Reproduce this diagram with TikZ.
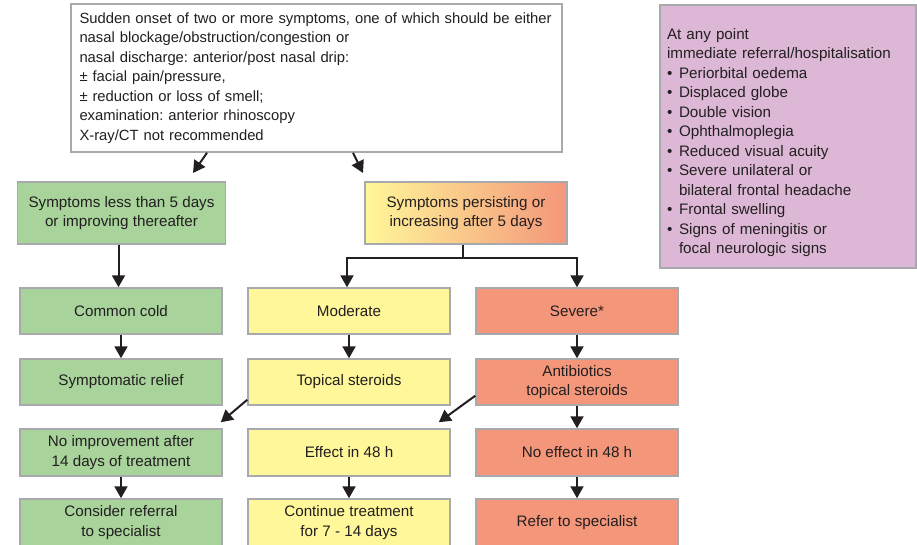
\documentclass[tikz,border=0pt]{standalone}
\usepackage{fontspec}
\setmainfont{Liberation Sans}
\usetikzlibrary{arrows.meta}
\frenchspacing

\definecolor{boxgreen}{HTML}{A8D39B}
\definecolor{boxyellow}{HTML}{FFF799}
\definecolor{boxred}{HTML}{F4967A}
\definecolor{boxpink}{HTML}{DDB8D6}
\definecolor{boxedge}{HTML}{A7A9AC}
\definecolor{ink}{HTML}{231F20}

\newcommand{\bul}{\makebox[12pt][l]{•}}
\newcommand{\nobul}{\hspace*{12pt}}

\tikzset{
  stage/.style={draw=boxedge, line width=1.5pt, minimum width=202pt, minimum height=46pt,
    inner sep=2pt, align=center, text=ink},
  mild/.style={stage, fill=boxgreen},
  moder/.style={stage, fill=boxyellow},
  sev/.style={stage, fill=boxred},
  flow/.style={-{Triangle[length=12pt,width=13pt]}, line width=2pt, ink}
}

\begin{document}
\begin{tikzpicture}[x=1pt, y=-1pt, font=\fontsize{15.2}{19.5}\selectfont]
    \def\colA{121}
    \def\colB{349}
    \def\colC{577}

    \useasboundingbox (0,0) rectangle (917,544);

    % presentation and red flags
    \node[stage, fill=white, minimum width=491pt, minimum height=148pt,
      text width=478pt, inner xsep=6.5pt, align=left,
      font=\fontsize{14.8}{19.5}\selectfont] (onset) at (316.5,78)
      {\mbox{\hspace*{2pt}Sudden onset of two or more symptoms, one of which should be either}\\
       \hspace*{2pt}nasal blockage/obstruction/congestion or\\
       \hspace*{2pt}nasal discharge: anterior/post nasal drip:\\
       \hspace*{2pt}± facial pain/pressure,\\
       \hspace*{2pt}± reduction or loss of smell;\\
       \hspace*{2pt}examination: anterior rhinoscopy\\
       \hspace*{2pt}X-ray/CT not recommended};

    \node[stage, fill=boxpink, minimum width=256pt, minimum height=263pt,
      text width=242pt, inner xsep=7pt, align=left] (anypoint) at (788,136.5)
      {\rule{0pt}{23pt}At any point\\
       immediate referral/hospitalisation\\
       \bul Periorbital oedema\\
       \bul Displaced globe\\
       \bul Double vision\\
       \bul Ophthalmoplegia\\
       \bul Reduced visual acuity\\
       \bul Severe unilateral or\\
       \nobul bilateral frontal headache\\
       \bul Frontal swelling\\
       \bul Signs of meningitis or\\
       \nobul focal neurologic signs};

    % first split
    \node[mild, minimum width=208pt, minimum height=62pt] (shortcourse) at (121.5,213)
      {Symptoms less than 5 days\\or improving thereafter};
    \node[stage, left color=boxyellow, right color=boxred, minimum height=62pt] (persist) at (466,213)
      {Symptoms persisting or\\increasing after 5 days};

    % columns
    \node[mild] (cold) at (\colA,311) {Common cold};
    \node[moder] (moderate) at (\colB,311) {Moderate};
    \node[sev] (severe) at (\colC,311) {Severe*};

    \node[mild] (relief) at (\colA,382) {Symptomatic relief};
    \node[moder] (topical) at (\colB,382) {Topical steroids};
    \node[sev] (antibiotics) at (\colC,382) {Antibiotics\\topical steroids};

    \node[mild, minimum height=47pt] (noimprove) at (\colA,452.5) {No improvement after\\14 days of treatment};
    \node[moder, minimum height=47pt] (effect) at (\colB,452.5) {Effect in 48 h};
    \node[sev, minimum height=47pt] (noeffect) at (\colC,452.5) {No effect in 48 h};

    \node[mild, minimum height=47pt] (consider) at (\colA,522.5) {Consider referral\\to specialist};
    \node[moder, minimum height=47pt] (continue) at (\colB,522.5) {Continue treatment\\for 7 - 14 days};
    \node[sev, minimum height=47pt] (refer) at (\colC,522.5) {Refer to specialist};

    % arrows
    \coordinate (leftend) at (193,173);
    \coordinate (rightend) at (363,173);
    \draw[flow] ([xshift=-109.5pt]onset.south) -- (leftend);
    \draw[flow] ([xshift=36.5pt]onset.south) -- (rightend);

    \draw[flow] ([xshift=-3pt]shortcourse.south) -- ([xshift=-3pt]shortcourse.south |- cold.north);
    \draw[flow] ([xshift=-3pt]persist.south) -- ++(0,13) coordinate (fork) -| ([xshift=-2pt]moderate.north);
    \draw[flow] (fork) -| (severe.north);

    \foreach \a/\b in {cold/relief, moderate/topical, severe/antibiotics, antibiotics/noeffect,
                       noimprove/consider, effect/continue, noeffect/refer}
      \draw[flow] (\a) -- (\b);

    \draw[flow] ([yshift=6pt]topical.south west) -- ([xshift=-2pt,yshift=6pt]noimprove.north east);
    \draw[flow] ([yshift=10pt]antibiotics.south west) -- ([xshift=-12pt,yshift=6pt]effect.north east);
\end{tikzpicture}
\end{document}
